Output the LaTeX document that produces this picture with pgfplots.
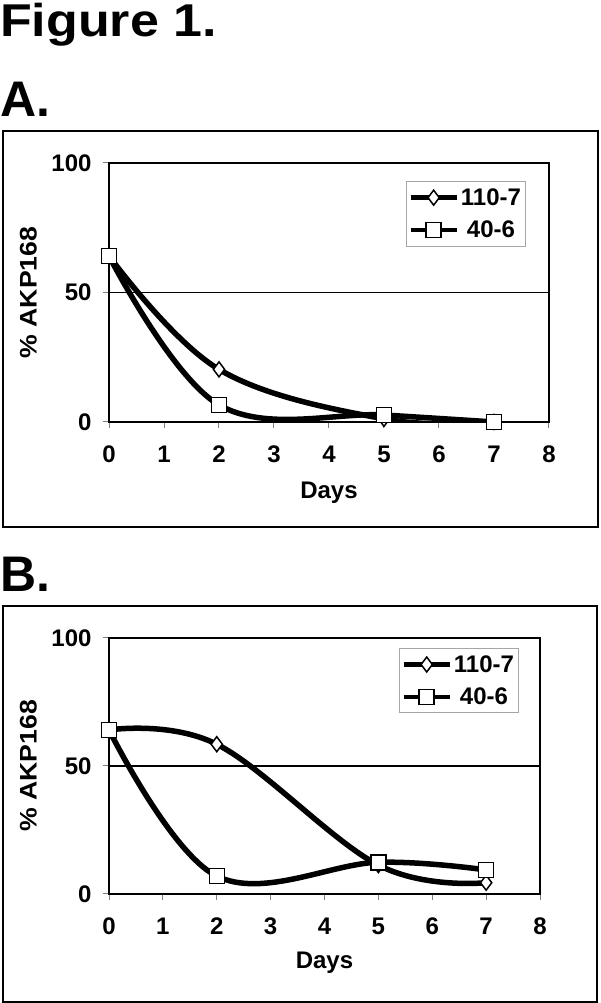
\documentclass[border=0pt]{standalone}
\usepackage{fontspec}
\setmainfont{Liberation Sans}
\usepackage{graphicx}
\usepackage{pgfplots}
\pgfplotsset{compat=1.18}

\newcommand\tf{\bfseries\fontsize{24}{26}\selectfont}
\newcommand\bigfont{\bfseries\fontsize{50}{50}\selectfont}

\pgfplotsset{
  akp/.style={
    scale only axis, anchor=south west,
    xmin=0, xmax=8, ymin=0, ymax=100,
    xtick={0,1,...,8}, ytick={0,50,100},
    tick pos=left, tick align=outside, major tick length=6pt,
    axis line style={line width=1.6pt},
    major tick style={line width=1pt, gray},
    ymajorgrids, grid style={line width=1.2pt, black},
    /pgf/number format/assume math mode=true,
    tick label style={font=\tf},
    xticklabel style={yshift=-14pt},
    yticklabel style={xshift=-8pt},
    label style={font=\tf},
    legend cell align=center,
    legend style={font=\tf, draw=gray!70, line width=0.8pt, anchor=north west,
      inner xsep=2pt, inner ysep=5pt, row sep=10pt,
      nodes={inner sep=2pt}},
    legend image code/.code={\draw[mark repeat=2, mark phase=2, line width=4.5pt] plot coordinates {(0pt,0pt) (23pt,0pt) (46pt,0pt)};},
  },
  ser/.style={draw=black, line width=5.5pt, smooth, tension=0.62},
  mkd/.style={ser, mark=diamond*, mark size=7.5pt, mark options={solid, draw=black, fill=white, line width=1.5pt}},
  mks/.style={ser, mark=square*, mark size=7.5pt, mark options={solid, draw=black, fill=white, line width=1.5pt}},
}

\begin{document}
\begin{tikzpicture}
\useasboundingbox (0pt,0pt) rectangle (600pt,1003pt);

\node[anchor=base west, inner sep=0pt, font=\bfseries\fontsize{46}{46}\selectfont] at (0pt,966pt) {\scalebox{1.13}[1]{Figure 1.}};
\node[anchor=base west, inner sep=0pt, font=\bigfont] at (0pt,886pt) {A.};
\node[anchor=base west, inner sep=0pt, font=\bigfont] at (0pt,411pt) {B.};

\draw[line width=1.6pt] (3pt,476pt) rectangle (598pt,872pt);
\draw[line width=1.6pt] (3pt,1pt) rectangle (597pt,397pt);

% Panel A
\begin{axis}[akp, at={(109pt,581pt)}, width=440pt, height=259pt,
  xlabel={Days}, ylabel={\scalebox{1.11}[1]{\% AKP168}},
  xlabel style={at={(axis description cs:0.5,-0.274)}, anchor=center},
  ylabel style={at={(axis description cs:-0.183,0.5)}, anchor=center},
  legend style={at={(axis description cs:0.675,0.93)}},
]
\addplot[mkd] coordinates {(0,64.1) (2,20.3) (5,1.2) (7,0)};
\addlegendentry{110-7}
\addplot[mks] coordinates {(0,64.1) (2,6.6) (5,2.7) (7,0)};
\addlegendentry{40-6}
\end{axis}

% Panel B
\begin{axis}[akp, at={(109pt,109pt)}, width=431pt, height=256pt,
  xlabel={Days}, ylabel={\scalebox{1.11}[1]{\% AKP168}},
  xlabel style={at={(axis description cs:0.5,-0.27)}, anchor=center},
  ylabel style={at={(axis description cs:-0.187,0.5)}, anchor=center},
  legend style={at={(axis description cs:0.673,0.961)}},
]
\addplot[mkd] coordinates {(0,64.1) (2,58.5) (5,11.3) (7,4.4)};
\addlegendentry{110-7}
\addplot[mks] coordinates {(0,64.1) (2,7.0) (5,12.4) (7,9.4)};
\addlegendentry{40-6}
\end{axis}
\end{tikzpicture}
\end{document}
